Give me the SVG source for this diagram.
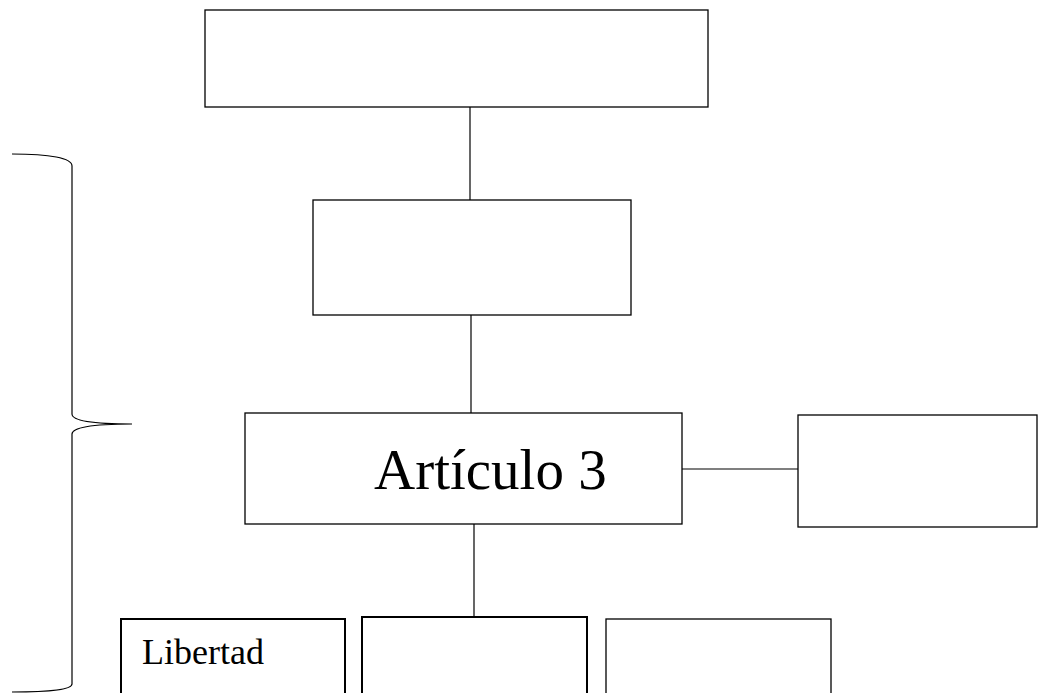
<svg xmlns="http://www.w3.org/2000/svg" width="1038" height="693" viewBox="0 0 1038 693">
<style>
.box{fill:#fff;stroke:#000;stroke-width:1.3}
.box2{fill:#fff;stroke:#000;stroke-width:2}
.con{stroke:#000;stroke-width:1.2;fill:none}
.t{font-family:"Liberation Serif",serif;fill:#000}
</style>
<rect width="1038" height="693" fill="#fff"/>
<g id="connectors">
<line class="con" x1="470" y1="107" x2="470" y2="200"/>
<line class="con" x1="471" y1="315" x2="471" y2="413"/>
<line class="con" x1="682" y1="469" x2="798" y2="469"/>
<line class="con" x1="474" y1="524" x2="474" y2="617"/>
</g>
<g id="brace">
<path class="con" stroke-width="1.5" d="M12,154 C50,154 72,158 72,166 L72,414 C72,420 90,424 132,424 C90,424 72,428 72,434 L72,684 C72,690 50,692 12,692"/>
</g>
<g id="n-top"><rect class="box" x="205" y="10" width="503" height="97"/></g>
<g id="n-second"><rect class="box" x="313" y="200" width="318" height="115"/></g>
<g id="n-articulo"><rect class="box" x="245" y="413" width="437" height="111"/>
<text class="t" x="374" y="489" font-size="57">Artículo 3</text></g>
<g id="n-right"><rect class="box" x="798" y="415" width="239" height="112"/></g>
<g id="n-libertad"><rect class="box2" x="121" y="619" width="224" height="82"/>
<text class="t" x="142" y="664" font-size="36">Libertad</text></g>
<g id="n-b2"><rect class="box2" x="362" y="617" width="225" height="84"/></g>
<g id="n-b3"><rect class="box" x="606" y="619" width="225" height="82"/></g>
</svg>
